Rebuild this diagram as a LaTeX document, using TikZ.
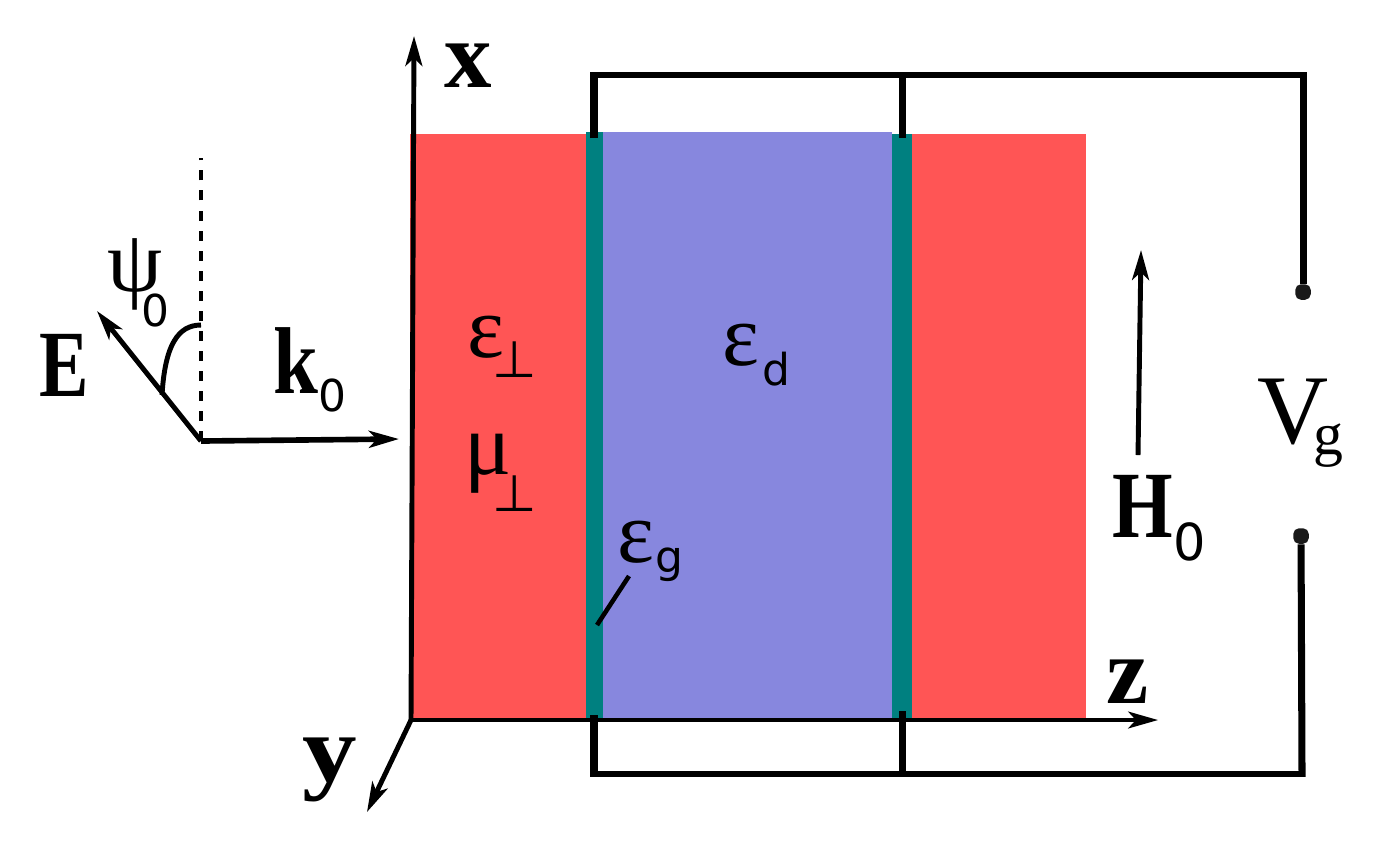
\documentclass[tikz,border=0pt]{standalone}
\usepackage{fontspec}
\setmainfont{Liberation Serif}
\newfontfamily\sansgr{DejaVu Sans}
\usetikzlibrary{arrows,arrows.meta}
\definecolor{slabred}{RGB}{255,85,85}
\definecolor{slabblue}{RGB}{135,135,222}
\definecolor{gatecol}{RGB}{0,128,128}
\newcommand{\narrowbf}[2][0.78]{\scalebox{#1}[1]{#2}}
\tikzset{
  axisline/.style={line width=1.4pt,-{Stealth[length=8.5pt,width=4.8pt,inset=2.2pt]}},
  wire/.style={line width=1.6pt,line cap=rect},
  wirev/.style={line width=2pt,shorten >=-0.8pt},
  contact/.style={rectangle,rounded corners=1.6pt,fill=black!90,inner sep=0pt,minimum size=4.4pt},
  boldlabel/.style={inner sep=0pt,font=\fontsize{27}{30}\selectfont\bfseries},
  grlabel/.style={inner sep=0pt,font=\fontsize{25}{28}\selectfont},
  sublabel/.style={inner sep=0pt,font=\fontsize{12.5}{15}\selectfont\sansgr},
  perplabel/.style={inner sep=0pt,font=\fontsize{14.5}{18}\selectfont\sansgr}
}
\begin{document}
\begin{tikzpicture}[x=0.01cm,y=-0.01cm]
  \useasboundingbox (0,0) rectangle (1383,844);
  % slabs
  \fill[slabred] (410,134) rectangle (1086,719);
  \fill[slabblue] (603,132) rectangle (892,719);
  \fill[gatecol] (586,132) rectangle (603,719);
  \fill[gatecol] (892,134) rectangle (912,719);
  % axes
  \coordinate (orig) at (411,720);
  \coordinate (xtip) at (414,36);
  \coordinate (ztip) at (1158,720);
  \coordinate (ytip) at (367,812);
  \draw[axisline] (orig) -- (xtip);
  \draw[axisline,line width=1pt] (orig) -- (ztip);
  \draw[axisline] (orig) -- (ytip);
  \node[boldlabel] (xlab) at (468,66) {x};
  \node[boldlabel] (zlab) at (1128,682) {z};
  \node[boldlabel] (ylab) at (330,770) {\narrowbf[1.15]{y}};
  % gate wires
  \coordinate (gatetopa) at (594,138);
  \coordinate (gatetopb) at (902,138);
  \coordinate (gatebota) at (594,715);
  \coordinate (gatebotb) at (902,711);
  \coordinate (topa) at (594,75);
  \coordinate (topb) at (902,75);
  \coordinate (topc) at (1303,75);
  \coordinate (bota) at (594,774);
  \coordinate (botb) at (902,774);
  \coordinate (botc) at (1302,774);
  \node[contact] (plus) at (1303,292) {};
  \node[contact] (minus) at (1301,536) {};
  \draw[wire] (topa) -- (topc);
  \draw[wire] (bota) -- (botc);
  \draw[wirev] (gatetopa) -- (topa);
  \draw[wirev] (gatetopb) -- (topb);
  \draw[wirev] (gatebota) -- (bota);
  \draw[wirev] (gatebotb) -- (botb);
  \draw[wirev] (plus) -- (topc);
  \draw[wirev] (minus) -- (botc);
  \node[inner sep=0pt,font=\fontsize{28}{32}\selectfont] (vlab) at (1293,412) {V};
  \node[inner sep=0pt,font=\fontsize{17}{20}\selectfont] (vsub) at (1328,446) {g};
  % incident wave
  \coordinate (inc) at (201,441);
  \coordinate (ktip) at (399,439);
  \coordinate (etip) at (97,311);
  \coordinate (normtop) at (201,158);
  \coordinate (arcstart) at (162,395);
  \coordinate (arcend) at (201,325);
  \draw[axisline,line width=1.6pt] (inc) -- (ktip);
  \draw[axisline] (inc) -- (etip);
  \draw[line width=1.1pt,dash pattern=on 2.85pt off 2.85pt] (inc) -- (normtop);
  \draw[line width=1.4pt] (arcstart) .. controls (165,345) and (178,325) .. (arcend);
  \node[boldlabel] (elab) at (64,365) {\narrowbf{E}};
  \node[boldlabel] (klab) at (296,361) {\narrowbf[0.85]{k}};
  \node[sublabel] (ksub) at (332,395) {0};
  \node[grlabel] (psilab) at (135,274) {ψ};
  \node[sublabel] (psisub) at (155,310) {0};
  % magnetic field
  \coordinate (hbase) at (1138,455);
  \coordinate (htip) at (1141,250);
  \draw[axisline] (hbase) -- (htip);
  \node[boldlabel] (hlab) at (1143,506) {\narrowbf[0.82]{H}};
  \node[sublabel,font=\fontsize{14.5}{18}\selectfont\sansgr] (hsub) at (1190,542) {0};
  % material labels
  \node[grlabel] (epsperp) at (486,337) {ε};
  \node[perplabel] (epsperpsub) at (515,360) {⊥};
  \node[grlabel] (muperp) at (488,464) {μ};
  \node[perplabel] (muperpsub) at (515,494) {⊥};
  \node[grlabel] (epsd) at (741,345) {ε};
  \node[sublabel] (epsdsub) at (776,369) {d};
  \node[grlabel] (epsg) at (636,542) {ε};
  \node[sublabel] (epsgsub) at (669,565) {g};
  \coordinate (gateline) at (597,625);
  \coordinate (gatelabel) at (629,576);
  \draw[line width=1.3pt] (gateline) -- (gatelabel);
\end{tikzpicture}
\end{document}
